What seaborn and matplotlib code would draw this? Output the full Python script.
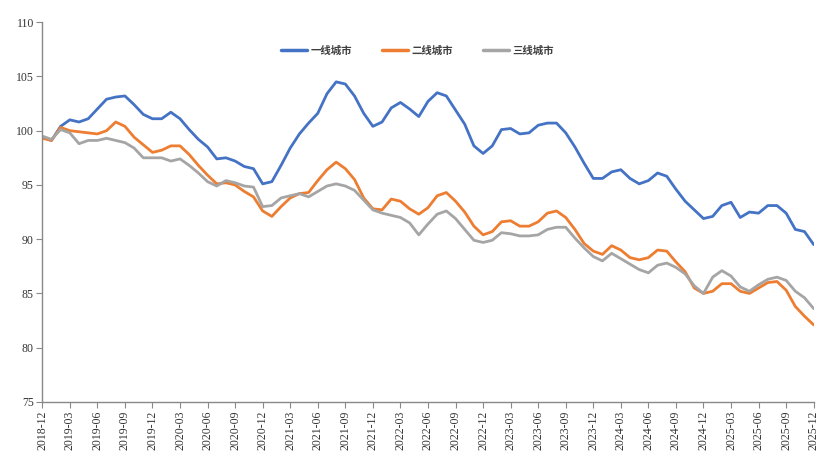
import matplotlib
matplotlib.use("Agg")
import matplotlib.pyplot as plt
import seaborn as sns
import pandas as pd
import numpy as np

months = [str(p) for p in pd.period_range("2018-12", "2025-12", freq="M")]

tier1 = [99.4, 99.1, 100.4, 101.0, 100.8, 101.1, 102.0, 102.9, 103.1, 103.2,
         102.4, 101.5, 101.1, 101.1, 101.7, 101.1, 100.1, 99.2, 98.5, 97.4,
         97.5, 97.2, 96.7, 96.5, 95.1, 95.3, 96.8, 98.4, 99.7, 100.7,
         101.6, 103.4, 104.5, 104.3, 103.2, 101.6, 100.4, 100.8, 102.1, 102.6,
         102.0, 101.3, 102.7, 103.5, 103.2, 101.9, 100.6, 98.6, 97.9, 98.6,
         100.1, 100.2, 99.7, 99.8, 100.5, 100.7, 100.7, 99.8, 98.5, 97.0,
         95.6, 95.6, 96.2, 96.4, 95.6, 95.1, 95.4, 96.1, 95.8, 94.6,
         93.5, 92.7, 91.9, 92.1, 93.1, 93.4, 92.0, 92.5, 92.4, 93.1,
         93.1, 92.4, 90.9, 90.7, 89.5]

tier2 = [99.3, 99.1, 100.3, 100.0, 99.9, 99.8, 99.7, 100.0, 100.8, 100.4,
         99.4, 98.7, 98.0, 98.2, 98.6, 98.6, 97.8, 96.8, 95.9, 95.1,
         95.2, 95.0, 94.4, 93.9, 92.6, 92.1, 93.0, 93.8, 94.2, 94.3,
         95.4, 96.4, 97.1, 96.5, 95.5, 93.8, 92.8, 92.7, 93.7, 93.5,
         92.8, 92.3, 92.9, 94.0, 94.3, 93.5, 92.5, 91.2, 90.4, 90.7,
         91.6, 91.7, 91.2, 91.2, 91.6, 92.4, 92.6, 92.0, 90.9, 89.6,
         88.9, 88.6, 89.4, 89.0, 88.3, 88.1, 88.3, 89.0, 88.9, 87.9,
         87.0, 85.5, 85.0, 85.2, 85.9, 85.9, 85.2, 85.0, 85.5, 86.0,
         86.1, 85.3, 83.8, 82.9, 82.1]

tier3 = [99.5, 99.2, 100.1, 99.8, 98.8, 99.1, 99.1, 99.3, 99.1, 98.9,
         98.4, 97.5, 97.5, 97.5, 97.2, 97.4, 96.8, 96.1, 95.3, 94.9,
         95.4, 95.2, 94.9, 94.8, 93.0, 93.1, 93.8, 94.0, 94.2, 93.9,
         94.4, 94.9, 95.1, 94.9, 94.5, 93.6, 92.7, 92.4, 92.2, 92.0,
         91.5, 90.4, 91.4, 92.3, 92.6, 91.9, 90.9, 89.9, 89.7, 89.9,
         90.6, 90.5, 90.3, 90.3, 90.4, 90.9, 91.1, 91.1, 90.1, 89.2,
         88.4, 88.0, 88.7, 88.2, 87.7, 87.2, 86.9, 87.6, 87.8, 87.4,
         86.8, 85.7, 85.0, 86.5, 87.1, 86.6, 85.6, 85.2, 85.8, 86.3,
         86.5, 86.2, 85.2, 84.6, 83.6]

series_names = ["一线城市", "二线城市", "三线城市"]
colors = ["#4472C4", "#ED7D31", "#A5A5A5"]

tick_labels = months[::3]

df = pd.DataFrame({
    "idx": list(range(len(months))) * 3,
    "value": tier1 + tier2 + tier3,
    "series": [series_names[0]] * len(months) + [series_names[1]] * len(months) + [series_names[2]] * len(months),
})

sns.set_theme(style="white")
plt.rcParams['font.family'] = ['Liberation Serif', 'Noto Sans CJK SC', 'DejaVu Sans']

fig = plt.figure(figsize=(8.32, 4.62), dpi=100)
ax = fig.add_axes([0.0508, 0.130, 0.9272, 0.822])

sns.lineplot(data=df, x="idx", y="value", hue="series", palette=colors,
             hue_order=series_names, linewidth=2.0, ax=ax, legend=True)

ax.set_xlim(0, len(months) - 1)
ax.set_ylim(75, 110)
ax.set_yticks(np.arange(75, 111, 5))
ax.set_yticklabels([str(v) for v in range(75, 111, 5)], fontsize=8.5)
ax.set_xticks(list(range(0, len(months), 3)))
ax.set_xticklabels(tick_labels, rotation=90, fontsize=8.5)
ax.set_xlabel("")
ax.set_ylabel("")

for side in ["top", "right"]:
    ax.spines[side].set_visible(False)
for side in ["left", "bottom"]:
    ax.spines[side].set_color("#898989")
    ax.spines[side].set_linewidth(1.0)
ax.tick_params(axis="both", which="major", direction="out", length=4, width=0.8,
               color="#898989", labelcolor="#333333", pad=2, left=True, bottom=True)

leg = ax.legend(loc="center", bbox_to_anchor=(0.486, 0.926), ncol=3, frameon=False,
                prop={'family': ['Noto Sans CJK SC', 'DejaVu Sans'], 'size': 7.5, 'weight': 'bold'},
                handlelength=2.5, handletextpad=0.3, columnspacing=2.9)
for t in leg.get_texts():
    t.set_color("#404040")
for h in leg.get_lines():
    h.set_linewidth(2.5)

fig.savefig("out.png", dpi=100)
